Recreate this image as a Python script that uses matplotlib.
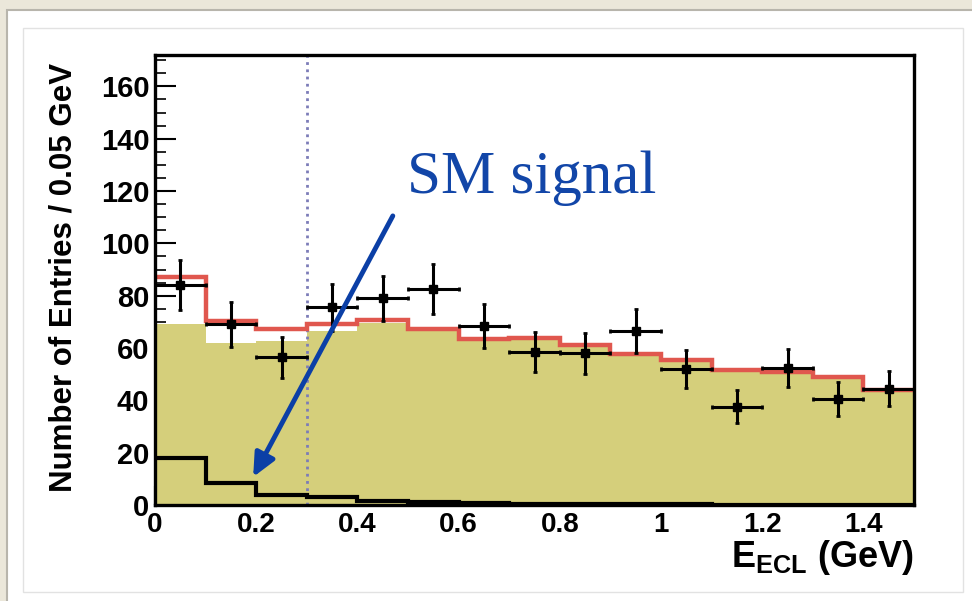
import numpy as np
import matplotlib.pyplot as plt
from matplotlib.patches import Rectangle

plt.rcParams['font.family'] = ['Liberation Sans', 'DejaVu Sans']
plt.rcParams['font.weight'] = 'bold'
plt.rcParams['mathtext.fontset'] = 'custom'
plt.rcParams['mathtext.bf'] = 'Liberation Sans:bold'
plt.rcParams['mathtext.rm'] = 'Liberation Sans:bold'

# bins of 0.1 GeV
bin_edges = [0.0, 0.1, 0.2, 0.3, 0.4, 0.5, 0.6, 0.7, 0.8, 0.9, 1.0, 1.1, 1.2, 1.3, 1.4, 1.5]
bin_centers = [0.05, 0.15, 0.25, 0.35, 0.45, 0.55, 0.65, 0.75, 0.85, 0.95, 1.05, 1.15, 1.25, 1.35, 1.45]

# data points
data_counts = [84, 69, 56.5, 75.5, 79, 82.5, 68.5, 58.5, 58, 66.5, 52, 37.5, 52.5, 40.5, 44.5]
data_errs = [9.5, 8.6, 7.9, 9.0, 8.6, 9.6, 8.3, 7.8, 7.8, 8.3, 7.3, 6.3, 7.3, 6.5, 6.8]

# background (yellow), signal (black), total (red)
background = [69, 62, 62.5, 66.5, 69.5, 66.5, 63, 63.5, 61, 57.7, 55.5, 51.4, 50.6, 48.7, 44]
sm_signal = [18, 8.4, 3.8, 3.0, 1.6, 1.2, 0.6, 0.4, 0.3, 0.2, 0.2, 0.1, 0.1, 0.1, 0.1]
total = [87, 70.5, 67.2, 69.3, 70.9, 67.4, 63.6, 64, 61.3, 57.9, 55.6, 51.5, 50.7, 48.8, 44]

cut_value = 0.3

fig = plt.figure(figsize=(9.72, 6.01), dpi=100)
fig.patch.set_facecolor('#ebe7da')

# white panel with shadow and inner frame
fig.patches.append(Rectangle((7 / 972, -0.05), 1.0, 1 - 10 / 601 + 0.05, transform=fig.transFigure,
                             facecolor='white', edgecolor='#b8b5ac', linewidth=1.5, zorder=-2))
fig.patches.append(Rectangle((23 / 972, 1 - 592 / 601), (963 - 23) / 972, (592 - 28) / 601,
                             transform=fig.transFigure, facecolor='none', edgecolor='#e2e2e2',
                             linewidth=1.0, zorder=-1))

ax = fig.add_axes([155 / 972, 1 - 505 / 601, (914 - 155) / 972, (505 - 55) / 601])
ax.set_facecolor('white')
ax.set_axisbelow(True)

ax.stairs(background, bin_edges, fill=True, color='#d5cf7b', zorder=1)
ax.axvline(cut_value, color='#7c7cb8', linestyle=(0, (1, 1.6)), linewidth=2, zorder=1.5)
ax.stairs(total, bin_edges, baseline=None, color='#e0574e', linewidth=3.2, zorder=3)
ax.stairs(sm_signal, bin_edges, baseline=None, color='black', linewidth=3.0, zorder=3)
ax.errorbar(bin_centers, data_counts, xerr=0.05, yerr=data_errs, fmt='s', color='black',
            markersize=6, elinewidth=2.2, capsize=1.5, capthick=2, zorder=4)

ax.set_xlim(0, 1.5)
ax.set_ylim(0, 172)
ax.set_xticks([0, 0.2, 0.4, 0.6, 0.8, 1.0, 1.2, 1.4])
ax.set_xticklabels(['0', '0.2', '0.4', '0.6', '0.8', '1', '1.2', '1.4'])
ax.set_yticks(np.arange(0, 161, 20))
ax.set_yticks(np.arange(0, 172, 5), minor=True)
ax.tick_params(axis='y', which='major', direction='in', length=15, width=1.5, labelsize=21, pad=4)
ax.tick_params(axis='y', which='minor', direction='in', length=8, width=1.2)
ax.tick_params(axis='x', which='major', direction='in', length=14, width=1.5, labelsize=20, pad=5)
for s in ax.spines.values():
    s.set_linewidth(2.4)
    s.set_zorder(5)

ax.text(-0.12, 0.505, 'Number of Entries / 0.05 GeV', transform=ax.transAxes, rotation=90,
        ha='center', va='center', fontsize=22.5, fontweight='bold')
ax.text(1.0, -0.138, r'$\mathbf{E}_{\mathbf{ECL}}$ (GeV)', transform=ax.transAxes,
        ha='right', va='baseline', fontsize=26, fontweight='bold')

ax.annotate('', xy=(0.194, 10.7), xytext=(0.47, 110.5), xycoords='data',
            arrowprops=dict(arrowstyle='-|>,head_length=1.4,head_width=0.65', color='#0b3fa6',
                            linewidth=3.5, shrinkA=0, shrinkB=0), zorder=6, annotation_clip=False)
fig.text(407 / 972, 1 - 193 / 601, 'SM signal', family=['Liberation Serif', 'DejaVu Serif'],
         fontweight='normal', fontsize=44, color='#1246a8', ha='left', va='baseline')

fig.savefig('out.png', dpi=100, facecolor=fig.get_facecolor())
